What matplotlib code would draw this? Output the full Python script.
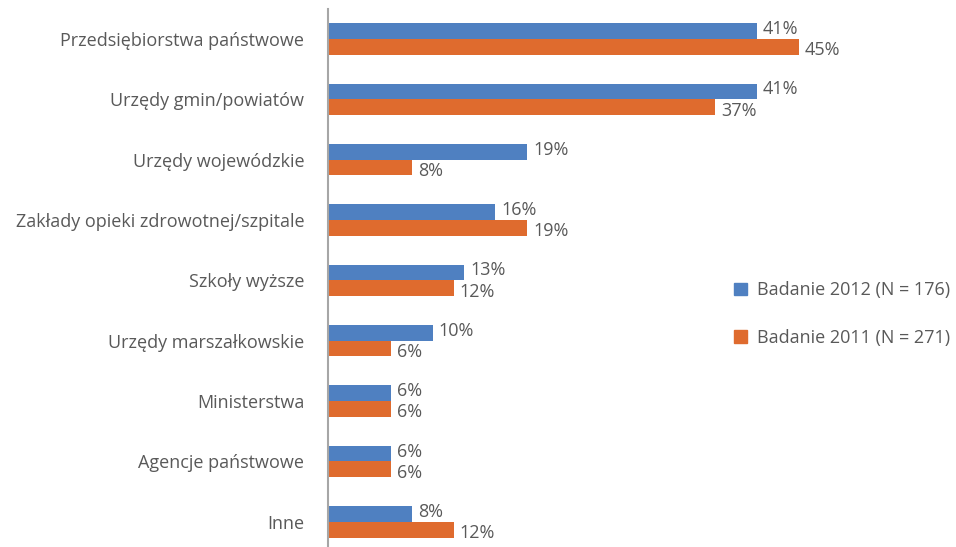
import numpy as np
import matplotlib
matplotlib.use("Agg")
import matplotlib.pyplot as plt
from matplotlib.patches import Patch

# Survey categories, top to bottom
categories = [
    "Przedsiębiorstwa państwowe",
    "Urzędy gmin/powiatów",
    "Urzędy wojewódzkie",
    "Zakłady opieki zdrowotnej/szpitale",
    "Szkoły wyższe",
    "Urzędy marszałkowskie",
    "Ministerstwa",
    "Agencje państwowe",
    "Inne",
]
values_2012 = [41, 41, 19, 16, 13, 10, 6, 6, 8]
values_2011 = [45, 37, 8, 19, 12, 6, 6, 6, 12]
series_labels = ["Badanie 2012 (N = 176)", "Badanie 2011 (N = 271)"]

blue = "#4F80C1"
orange = "#DF6B2E"
text_col = "#595959"
fs = 13

plt.rcParams["font.family"] = ["Open Sans", "DejaVu Sans"]

W, H = 956, 547
fig = plt.figure(figsize=(W / 100, H / 100), dpi=100)
# axes spans the bar area; bottom slightly beyond the canvas
x0, top, bottom = 328, 8.8, 552
ax = fig.add_axes([x0 / W, 1 - bottom / H, 523 / W, (bottom - top) / H])

n = len(categories)
y = np.arange(n)
h = 0.26
ax.barh(y - h / 2, values_2012, height=h, color=blue)
ax.barh(y + h / 2, values_2011, height=h, color=orange)

for yi, v in zip(y, values_2012):
    ax.annotate(f"{v}%", (v, yi - h / 2), xytext=(4.5, 1.5), textcoords="offset points",
                va="center", ha="left", fontsize=fs, color=text_col)
for yi, v in zip(y, values_2011):
    ax.annotate(f"{v}%", (v, yi + h / 2), xytext=(4.5, -2.5), textcoords="offset points",
                va="center", ha="left", fontsize=fs, color=text_col)

ax.set_xlim(0, 50)
ax.set_ylim(n - 0.5, -0.5)
ax.set_yticks(y)
ax.set_yticklabels(categories, fontsize=fs, color=text_col)
ax.tick_params(axis="y", length=0, pad=17)
ax.set_xticks([])
for s in ["top", "right", "bottom"]:
    ax.spines[s].set_visible(False)
ax.spines["left"].set_color("#A6A6A6")
ax.spines["left"].set_linewidth(1.5)

handles = [Patch(color=blue), Patch(color=orange)]
fig.legend(handles, series_labels, loc="upper left",
           bbox_to_anchor=(718 / W, 1 - 265 / H), frameon=False,
           fontsize=fs, labelcolor=text_col, handlelength=0.7, handleheight=0.7,
           handletextpad=0.55, labelspacing=1.65)

fig.savefig("out.png", dpi=100)
